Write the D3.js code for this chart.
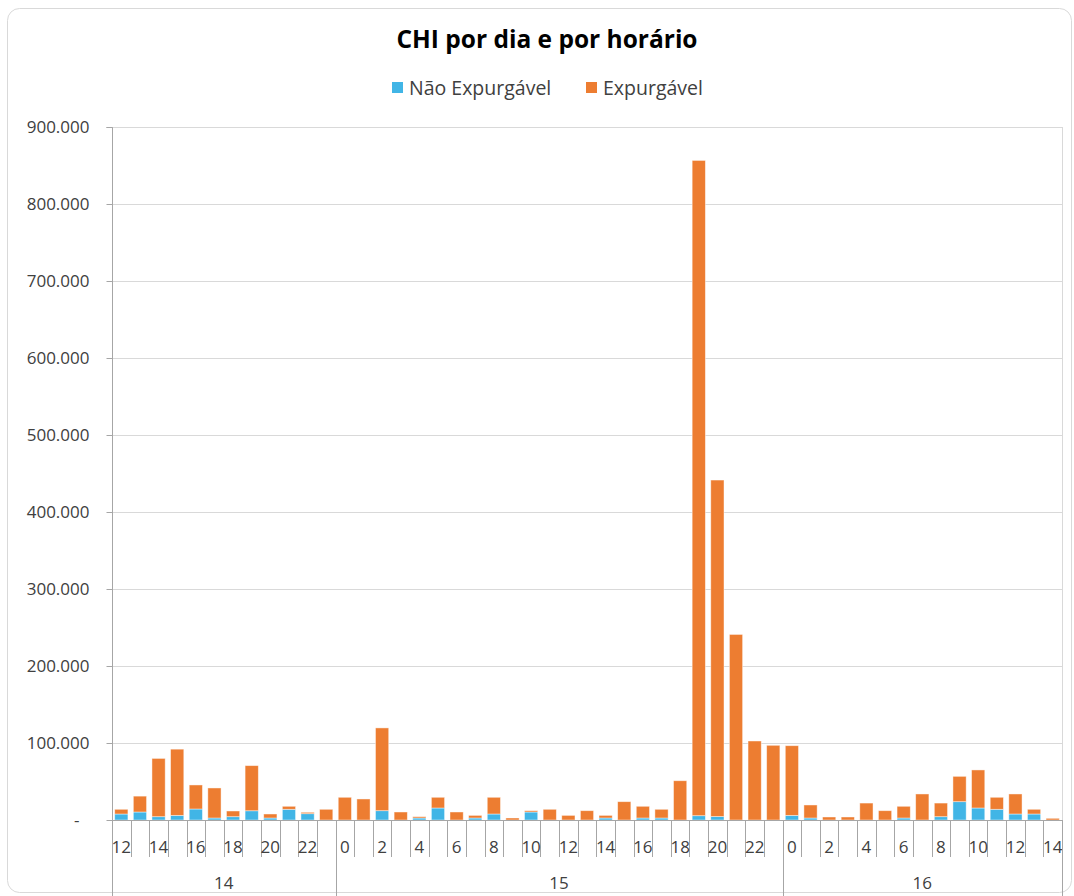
<!DOCTYPE html>
<html lang="pt">
<head>
<meta charset="UTF-8">
<title>CHI por dia e por horário</title>
<style>
  body { margin: 0; background: #fff; font-family: "Open Sans", sans-serif; }
  .grid line { stroke: #d9d9d9; stroke-width: 1px; }
  .axis text { fill: #404040; }
</style>
</head>
<body>
<svg width="1074" height="896"></svg>
<script src="https://cdn.jsdelivr.net/npm/d3@7"></script>
<script>
// days and hours of each bar
const days = ["14", "15", "16"];
const hours14 = [12, 13, 14, 15, 16, 17, 18, 19, 20, 21, 22, 23];
const hours15 = [0, 1, 2, 3, 4, 5, 6, 7, 8, 9, 10, 11, 12, 13, 14, 15, 16, 17, 18, 19, 20, 21, 22, 23];
const hours16 = [0, 1, 2, 3, 4, 5, 6, 7, 8, 9, 10, 11, 12, 13, 14];

// values
const naoExpurgavel = [
  7800, 10400, 4300, 6000, 14300, 2600, 4300, 12000, 2600, 13900, 8200, 0,
  0, 0, 12100, 0, 2600, 15600, 0, 2600, 7800, 0, 10400, 0,
  0, 0, 2600, 0, 2600, 2600, 0, 5600, 4500, 0, 0, 0,
  6000, 2600, 0, 0, 0, 0, 2600, 0, 4300, 23800, 15600, 13900, 7800, 7800, 0
];
const expurgavel = [
  6100, 20600, 75700, 86000, 31200, 39000, 7400, 58600, 5200, 3900, 1800, 13900,
  29500, 27300, 107500, 10400, 1700, 13900, 10400, 3400, 21700, 2600, 1700, 13900,
  6000, 12100, 3400, 23800, 15200, 11300, 51000, 851000, 437000, 241000, 102600, 97000,
  90500, 16900, 3900, 3900, 22000, 12100, 15200, 33800, 17700, 32900, 49400, 15600, 26000, 6100, 2200
];
const series = ["Não Expurgável", "Expurgável"];
const colors = ["#41b5e6", "#ed7d31"];
const yTicks = [0, 100000, 200000, 300000, 400000, 500000, 600000, 700000, 800000, 900000];

const rows = [];
[hours14, hours15, hours16].forEach((hs, di) => {
  hs.forEach(h => rows.push({ day: days[di], hour: h }));
});
rows.forEach((r, i) => {
  r.key = i;
  r[series[0]] = naoExpurgavel[i];
  r[series[1]] = expurgavel[i];
});

const svg = d3.select("svg");
const plotLeft = 112, plotRight = 1062, plotTop = 127, plotBottom = 820;

// chart frame
svg.append("rect")
  .attr("x", 7.5).attr("y", 8.5)
  .attr("width", 1064).attr("height", 884)
  .attr("rx", 12)
  .attr("fill", "#fff")
  .attr("stroke", "#d9d9d9");

const x = d3.scaleBand()
  .domain(rows.map(d => d.key))
  .range([plotLeft, plotRight])
  .paddingInner(0.29)
  .paddingOuter(0.145);

const y = d3.scaleLinear().domain([0, 900000]).range([plotBottom, plotTop]);

// gridlines
svg.append("g").attr("class", "grid")
  .selectAll("line")
  .data(yTicks.slice(1))
  .join("line")
  .attr("x1", plotLeft).attr("x2", plotRight)
  .attr("y1", d => y(d) + 0.5).attr("y2", d => y(d) + 0.5);

// plot right border
svg.append("line")
  .attr("x1", plotRight + 0.5).attr("x2", plotRight + 0.5)
  .attr("y1", plotTop).attr("y2", plotBottom)
  .attr("stroke", "#d9d9d9");

// bars
const stack = d3.stack().keys(series)(rows);
svg.append("g")
  .selectAll("g")
  .data(stack)
  .join("g")
  .attr("fill", (d, i) => colors[i])
  .selectAll("rect")
  .data(d => d.filter(p => p[1] > p[0]))
  .join("rect")
  .attr("x", d => x(d.data.key))
  .attr("width", x.bandwidth())
  .attr("y", d => y(d[1]))
  .attr("height", d => y(d[0]) - y(d[1]))
  .attr("stroke", "#fff")
  .attr("stroke-opacity", 0.55)
  .attr("stroke-width", 0.8);

// y axis
const yAxis = d3.axisLeft(y)
  .tickValues(yTicks)
  .tickSize(6)
  .tickPadding(17)
  .tickFormat(d => d === 0 ? "-" : d3.format(",")(d).replace(/,/g, "."));

svg.append("g")
  .attr("class", "axis")
  .attr("transform", `translate(${plotLeft + 0.5},0)`)
  .call(yAxis)
  .call(g => g.select(".domain").attr("stroke", "#a6a6a6").attr("d", `M-6,${plotTop + 0.5}H0V${896}`))
  .call(g => g.selectAll(".tick line").attr("stroke", "#a6a6a6"))
  .call(g => g.selectAll(".tick text")
    .attr("font-size", 17)
    .attr("font-family", "Open Sans")
    .attr("fill", "#404040")
    .attr("dx", d => d === 0 ? -10 : 0));

// x axis: baseline
svg.append("line")
  .attr("x1", plotLeft).attr("x2", plotRight + 0.5)
  .attr("y1", plotBottom + 0.5).attr("y2", plotBottom + 0.5)
  .attr("stroke", "#a6a6a6");

// category tick lines (boundaries between bars)
const step = x.step();
const bounds = d3.range(1, rows.length + 1).map(i => plotLeft + i * step);
svg.append("g")
  .selectAll("line")
  .data(bounds)
  .join("line")
  .attr("x1", d => Math.round(d) + 0.5).attr("x2", d => Math.round(d) + 0.5)
  .attr("y1", plotBottom).attr("y2", 857)
  .attr("stroke", "#a6a6a6");

// hour labels (even hours)
svg.append("g")
  .selectAll("text")
  .data(rows.filter(r => r.hour % 2 === 0))
  .join("text")
  .attr("x", d => x(d.key) + x.bandwidth() / 2)
  .attr("y", 853)
  .attr("text-anchor", "middle")
  .attr("font-size", 17)
  .attr("fill", "#404040")
  .text(d => d.hour);

// day group separators + labels
const dayStart = [0, hours14.length, hours14.length + hours15.length, rows.length];
svg.append("g")
  .selectAll("line")
  .data(dayStart)
  .join("line")
  .attr("x1", i => Math.round(plotLeft + i * step) + 0.5)
  .attr("x2", i => Math.round(plotLeft + i * step) + 0.5)
  .attr("y1", plotBottom).attr("y2", 896)
  .attr("stroke", "#a6a6a6");

svg.append("g")
  .selectAll("text")
  .data(days)
  .join("text")
  .attr("x", (d, i) => plotLeft + (dayStart[i] + dayStart[i + 1]) / 2 * step)
  .attr("y", 889)
  .attr("text-anchor", "middle")
  .attr("font-size", 17)
  .attr("fill", "#404040")
  .text(d => d);

// title
svg.append("text")
  .attr("x", 547).attr("y", 48)
  .attr("text-anchor", "middle")
  .attr("font-size", 24.5)
  .attr("font-weight", "bold")
  .attr("fill", "#000")
  .text("CHI por dia e por horário");

// legend
const legend = svg.append("g").attr("font-size", 19.5);
const legX = [392, 586];
series.forEach((s, i) => {
  legend.append("rect")
    .attr("x", legX[i]).attr("y", 82)
    .attr("width", 11).attr("height", 11)
    .attr("fill", colors[i]);
  legend.append("text")
    .attr("x", legX[i] + 17).attr("y", 95)
    .attr("fill", "#404040")
    .text(s);
});
</script>
</body>
</html>
